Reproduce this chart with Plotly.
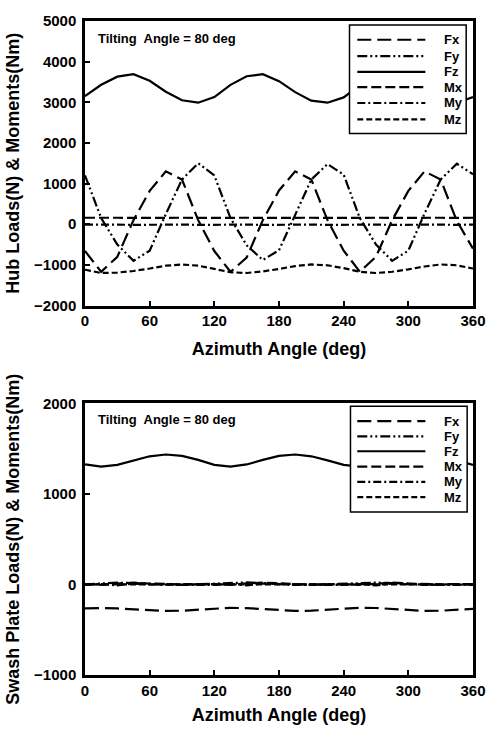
import plotly.graph_objects as go

# ---------------- data ----------------
azimuth = [0, 15, 30, 45, 60, 75, 90, 105, 120, 135, 150, 165, 180,
           195, 210, 225, 240, 255, 270, 285, 300, 315, 330, 345, 360]

# Hub loads & moments (top panel)
hub_Fx = [-660, -1170, -800, 100, 820, 1300, 1100, 100, -660, -1170, -820, 100, 830,
          1300, 1100, 100, -650, -1170, -800, 100, 820, 1300, 1100, 80, -600]
hub_Fy = [1200, 150, -500, -900, -650, 250, 1100, 1500, 1200, 150, -520, -880, -640,
          250, 1100, 1480, 1220, 150, -500, -900, -650, 260, 1100, 1490, 1230]
hub_Fz = [3150, 3430, 3630, 3690, 3530, 3260, 3050, 2990, 3130, 3430, 3640, 3690, 3520,
          3250, 3040, 2990, 3120, 3420, 3630, 3680, 3520, 3260, 3050, 2990, 3130]
hub_Mx = [160, 165, 160, 155, 160, 165, 160, 155, 160, 165, 160, 155, 160,
          165, 160, 155, 160, 165, 160, 155, 160, 165, 160, 155, 160]
hub_My = [-10, -5, -10, -15, -10, -5, -10, -15, -10, -5, -10, -15, -10,
          -5, -10, -15, -10, -5, -10, -15, -10, -5, -10, -15, -10]
hub_Mz = [-1120, -1200, -1190, -1150, -1090, -1020, -990, -1020, -1100, -1180, -1200, -1160, -1100,
          -1030, -990, -1010, -1080, -1170, -1200, -1170, -1110, -1040, -990, -1010, -1090]

# Swash plate loads & moments (bottom panel)
sw_Fx = [-265, -260, -265, -275, -285, -293, -290, -280, -265, -258, -262, -272, -285,
         -292, -290, -280, -265, -257, -260, -272, -285, -292, -290, -280, -270]
sw_Fy = [0, 10, 20, 15, 5, 0, -5, 0, 5, 12, 22, 15, 5, 0, -5, 0, 5, 12, 20, 15, 5, 0, -5, 0, 0]
sw_Fz = [1325, 1300, 1320, 1370, 1415, 1435, 1420, 1375, 1320, 1300, 1325, 1375, 1420,
         1435, 1415, 1370, 1320, 1300, 1320, 1370, 1415, 1435, 1415, 1370, 1320]
sw_Mx = [5, -5, 10, 20, 10, 5, 0, 5, 5, -5, 12, 20, 10, 5, 0, 5, 5, -5, 10, 20, 10, 5, 0, 5, 5]
sw_My = [-5, 5, -10, 10, 0, -5, -5, -5, -5, 5, -10, 10, 0, -5, -5, -5, -5, 5, -10, 10, 0, -5, -5, -5, -5]
sw_Mz = [0, 0, 5, 8, 5, 2, 0, 0, 0, 0, 5, 8, 5, 2, 0, 0, 0, 0, 5, 8, 5, 2, 0, 0, 0]

series_names = ["Fx", "Fy", "Fz", "Mx", "My", "Mz"]
x_ticks = [0, 60, 120, 180, 240, 300, 360]
top_y_ticks = [-2000, -1000, 0, 1000, 2000, 3000, 4000, 5000]
bot_y_ticks = [-1000, 0, 1000, 2000]
annotation_text = "Tilting  Angle = 80 deg"

# ---------------- styles ----------------
dashes = {
    "Fx": "14px,6px",
    "Fy": "10px,3px,2px,3px,2px,3px",
    "Fz": "solid",
    "Mx": "10px,4px",
    "My": "8px,3px,2px,3px",
    "Mz": "6px,3px",
}
LW = 2.2
FONT = "Liberation Sans, Arial, sans-serif"

W, H = 498, 734
ML, MR, MT, MB = 85, 14, 15, 57
PW, PH = W - ML - MR, H - MT - MB


def fx(px):
    return (px - ML) / PW


def fy(py):
    return (H - MB - py) / PH


fig = go.Figure()

top = [hub_Fx, hub_Fy, hub_Fz, hub_Mx, hub_My, hub_Mz]
bot = [sw_Fx, sw_Fy, sw_Fz, sw_Mx, sw_My, sw_Mz]
for name, ys in zip(series_names, top):
    fig.add_trace(go.Scatter(x=azimuth, y=ys, mode="lines", name=name, showlegend=False,
                             line=dict(color="black", width=LW, dash=dashes[name]),
                             xaxis="x", yaxis="y"))
for name, ys in zip(series_names, bot):
    fig.add_trace(go.Scatter(x=azimuth, y=ys, mode="lines", name=name, showlegend=False,
                             line=dict(color="black", width=LW, dash=dashes[name]),
                             xaxis="x2", yaxis="y2"))

axis_common = dict(
    showline=True, linewidth=2.5, linecolor="black", mirror=True,
    ticks="inside", ticklen=5, tickwidth=1.5, tickcolor="black",
    showgrid=False, zeroline=False,
    tickfont=dict(family=FONT, size=15, color="black", weight="bold"),
)
title_font = dict(family=FONT, size=18, color="black", weight="bold")

top_dom = [fy(303), 1.0]
bot_dom = [0.0, fy(402)]

fig.update_layout(
    width=W, height=H,
    margin=dict(l=ML, r=MR, t=MT, b=MB),
    paper_bgcolor="white", plot_bgcolor="white",
    xaxis=dict(axis_common, range=[0, 360], tickvals=x_ticks, domain=[0, 1], anchor="y",
               title=dict(text="Azimuth Angle (deg)", font=title_font, standoff=15)),
    yaxis=dict(axis_common, range=[-2000, 5000], tickvals=top_y_ticks, domain=top_dom, anchor="x",
               ticklabelstandoff=3,
               title=dict(text="Hub Loads(N) & Moments(Nm)", font=title_font, standoff=10)),
    xaxis2=dict(axis_common, range=[0, 360], tickvals=x_ticks, domain=[0, 1], anchor="y2",
                title=dict(text="Azimuth Angle (deg)", font=title_font, standoff=11)),
    yaxis2=dict(axis_common, range=[-1000, 2000], tickvals=bot_y_ticks, domain=bot_dom, anchor="x2",
                ticklabelstandoff=3,
                title=dict(text="Swash Plate Loads(N) & Moments(Nm)", font=title_font, standoff=10)),
)

# ---------------- custom legends & annotation ----------------
shapes = []
annotations = []


def add_legend(box, rows):
    x0, y0, x1, y1 = box
    shapes.append(dict(type="rect", xref="paper", yref="paper",
                       x0=fx(x0), x1=fx(x1), y0=fy(y1), y1=fy(y0),
                       line=dict(color="black", width=1.5), fillcolor="white", layer="above"))
    for name, ry in zip(series_names, rows):
        shapes.append(dict(type="line", xref="paper", yref="paper",
                           x0=fx(365), x1=fx(435), y0=fy(ry), y1=fy(ry),
                           line=dict(color="black", width=LW, dash=dashes[name]), layer="above"))
        annotations.append(dict(xref="paper", yref="paper", x=fx(452), y=fy(ry),
                                xanchor="left", yanchor="middle", showarrow=False, text=name,
                                font=dict(family=FONT, size=13, color="black", weight="bold")))


add_legend((357, 19, 477, 129), [34, 50.5, 66.5, 82, 98, 114.5])
add_legend((358, 405, 478, 512), [420, 435.5, 450.5, 466, 481.5, 497])

for ty in (33, 418):
    annotations.append(dict(xref="paper", yref="paper", x=fx(96), y=fy(ty),
                            xanchor="left", yanchor="middle", showarrow=False, text=annotation_text,
                            font=dict(family=FONT, size=13, color="black", weight="bold")))

fig.update_layout(shapes=shapes, annotations=annotations)

fig.write_html("out.html")
